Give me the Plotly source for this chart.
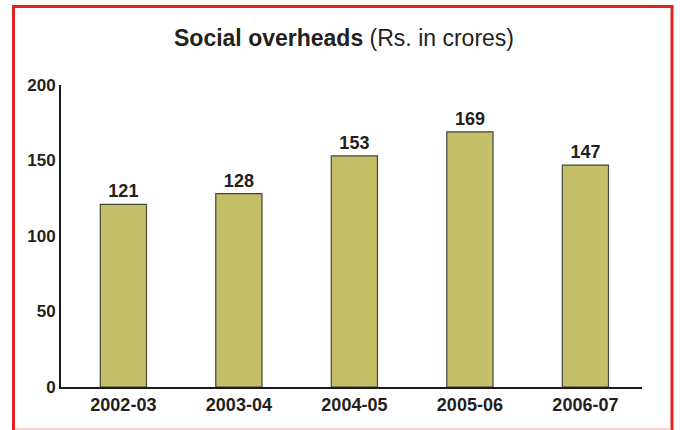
import plotly.graph_objects as go

categories = ["2002-03", "2003-04", "2004-05", "2005-06", "2006-07"]
values = [121, 128, 153, 169, 147]
y_ticks = [0, 50, 100, 150, 200]

FONT = "Liberation Sans, Arial, sans-serif"
TXT = "#231f20"

fig = go.Figure(go.Bar(
    x=list(range(len(categories))), y=values,
    width=0.4,
    marker=dict(color="#c5bf69", line=dict(color="#45453a", width=1.2)),
    text=[str(v) for v in values], textposition="outside",
    textfont=dict(family=FONT, size=18, color=TXT),
    texttemplate="<b>%{text}</b>",
    cliponaxis=False,
    hoverinfo="skip",
))

# plot area in pixels: x 61..642, y 85..387
L, R, T, B = 61, 642, 85, 387
W, H = R - L, B - T
def px(x): return (x - L) / W
def py(y): return (B - y) / H

red = "#e0241f"
shapes = [
    dict(type="line", xref="paper", yref="paper", x0=px(13.5), x1=px(13.5), y0=py(6.5), y1=py(432), line=dict(color=red, width=3)),
    dict(type="line", xref="paper", yref="paper", x0=px(672), x1=px(672), y0=py(6.5), y1=py(432), line=dict(color=red, width=3)),
    dict(type="line", xref="paper", yref="paper", x0=px(12), x1=px(673.5), y0=py(6.5), y1=py(6.5), line=dict(color=red, width=3)),
    dict(type="line", xref="paper", yref="paper", x0=px(15), x1=px(670.5), y0=py(429), y1=py(429), line=dict(color="#f6c9c9", width=1.5)),
]

fig.update_layout(
    width=680, height=430,
    margin=dict(l=L, r=680 - R, t=T, b=430 - B),
    paper_bgcolor="white", plot_bgcolor="white",
    showlegend=False,
    font=dict(family=FONT, color=TXT),
    shapes=shapes,
    annotations=[dict(
        text="<b>Social overheads</b> (Rs. in crores)",
        xref="paper", yref="paper", x=px(344), y=py(38),
        xanchor="center", yanchor="middle", showarrow=False,
        font=dict(family=FONT, size=23, color=TXT),
    )],
    xaxis=dict(
        range=[-0.54, 4.49], tickvals=list(range(len(categories))), ticktext=[f"<b>{c}</b>" for c in categories],
        showgrid=False, zeroline=False, showline=True, linecolor="#1a1a1a", linewidth=2,
        ticks="", tickfont=dict(family=FONT, size=18, color=TXT), fixedrange=True,
    ),
    yaxis=dict(
        range=[0, 200], tickvals=y_ticks, ticktext=[f"<b>{t}</b>" for t in y_ticks],
        showgrid=False, zeroline=False, showline=True, linecolor="#1a1a1a", linewidth=2,
        ticks="", tickfont=dict(family=FONT, size=17, color=TXT), fixedrange=True,
    ),
)

fig.write_html("out.html", config={"displayModeBar": False},
               post_script="document.body.style.margin='0';")
